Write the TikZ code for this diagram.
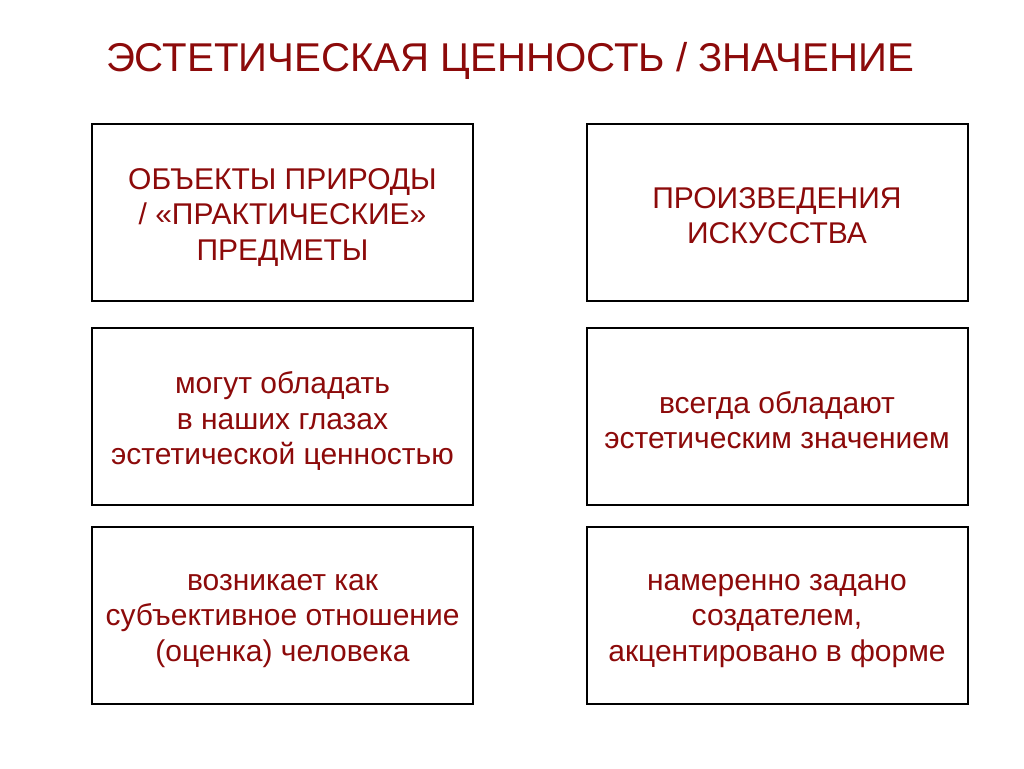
\documentclass[tikz,border=0pt]{standalone}
\usepackage{fontspec}
\setmainfont{Liberation Sans}
\definecolor{txtred}{RGB}{140,10,10}
\begin{document}
\begin{tikzpicture}[x=1pt,y=-1pt,
  cell/.style={draw=black,line width=2pt,minimum width=381pt,minimum height=177pt,inner sep=0pt},
  ctext/.style={inner sep=0pt,align=center,text=txtred,font=\fontsize{30}{35.5}\selectfont},
  ttl/.style={text=txtred,font=\fontsize{40.2}{48}\selectfont,inner sep=0pt}]
\useasboundingbox (0,0) rectangle (1024,768);
\node[ttl] (title) at (510,61) {ЭСТЕТИЧЕСКАЯ ЦЕННОСТЬ / ЗНАЧЕНИЕ};
\node[cell] (a1) at (282.5,212.5) {};
\node[cell] (b1) at (777,212.5) {};
\node[cell] (a2) at (282.5,416) {};
\node[cell] (b2) at (777,416) {};
\node[cell] (a3) at (282.5,615) {};
\node[cell] (b3) at (777,615) {};
\node[ctext] (a1t) at ([yshift=-5pt]a1.center) {ОБЪЕКТЫ ПРИРОДЫ\\/ «ПРАКТИЧЕСКИЕ»\\ПРЕДМЕТЫ};
\node[ctext] (b1t) at ([yshift=-3pt]b1.center) {ПРОИЗВЕДЕНИЯ\\ИСКУССТВА};
\node[ctext] (a2t) at ([yshift=-5pt]a2.center) {могут обладать\\в наших глазах\\эстетической ценностью};
\node[ctext] (b2t) at ([yshift=-4pt]b2.center) {всегда обладают\\эстетическим значением};
\node[ctext] (a3t) at ([yshift=-6pt]a3.center) {возникает как\\субъективное отношение\\(оценка) человека};
\node[ctext] (b3t) at ([yshift=-6pt]b3.center) {намеренно задано\\создателем,\\акцентировано в форме};
\end{tikzpicture}
\end{document}
